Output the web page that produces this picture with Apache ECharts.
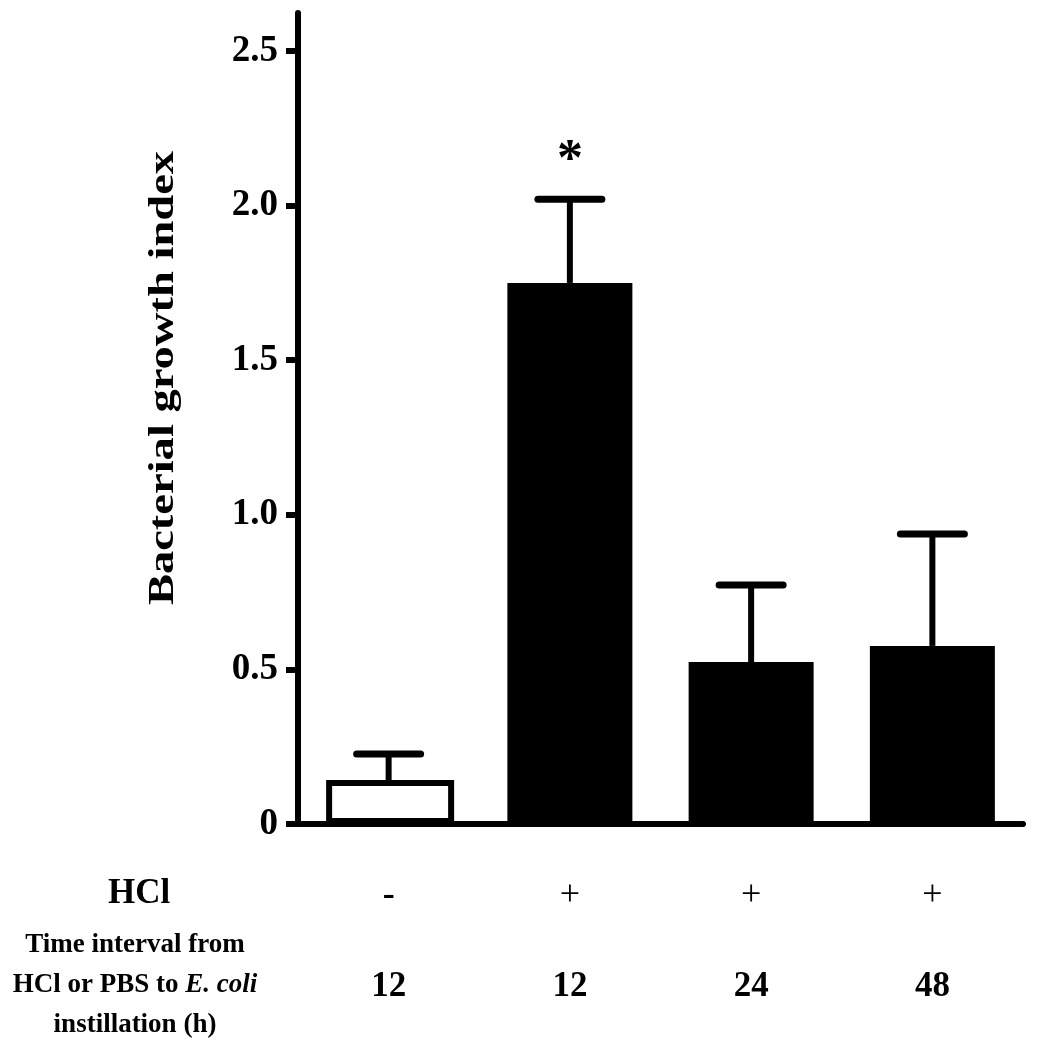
<!DOCTYPE html>
<html>
<head>
<meta charset="utf-8">
<script src="https://cdn.jsdelivr.net/npm/echarts@6/dist/echarts.min.js"></script>
<style>
html,body{margin:0;padding:0;background:#fff;}
#chart{width:1042px;height:1050px;}
</style>
</head>
<body>
<div id="chart"></div>
<script>
// ---- data ----
const hclRow = ['-', '+', '+', '+'];
const intervalRow = ['12', '12', '24', '48'];
const means = [0.142, 1.75, 0.524, 0.576];
const upperErr = [0.226, 2.021, 0.773, 0.938];
const significance = ['', '*', '', ''];
const yTicks = [0, 0.5, 1.0, 1.5, 2.0, 2.5];
const yAxisTitle = 'Bacterial growth index';
const rowTitle1 = 'HCl';

const FONT = "'Liberation Serif', 'Times New Roman', serif";
const categories = hclRow.map((s, i) => i);

const controlValues = means.map((v, i) => i === 0 ? v : '-');
const hclValues = means.map((v, i) => i === 0 ? '-' : v);
const errData = means.map((v, i) => [i, v, upperErr[i]]);

const chart = echarts.init(document.getElementById('chart'));
chart.setOption({
  animation: false,
  backgroundColor: '#fff',
  grid: { left: 298, right: 19, top: 13, bottom: 226, containLabel: false },
  xAxis: {
    type: 'category',
    data: categories,
    axisLine: { lineStyle: { color: '#000', width: 6 } },
    axisTick: { show: false },
    axisLabel: {
      margin: 22,
      formatter: function (v, i) {
        const key = hclRow[i] === '+' ? 'p' : 's';
        return '{' + key + '|' + hclRow[i] + '}\n{n|' + intervalRow[i] + '}';
      },
      rich: {
        s: { fontFamily: FONT, fontSize: 36, fontWeight: 'bold', lineHeight: 100, color: '#000' },
        p: { fontFamily: FONT, fontSize: 36, fontWeight: 'normal', lineHeight: 100, color: '#000' },
        n: { fontFamily: FONT, fontSize: 35, fontWeight: 'bold', lineHeight: 82, color: '#000' }
      }
    }
  },
  yAxis: {
    type: 'value',
    min: 0,
    max: 2.623,
    splitLine: { show: false },
    axisLine: { show: true, lineStyle: { color: '#000', width: 6 } },
    axisTick: { show: true, customValues: yTicks, length: 12, lineStyle: { color: '#000', width: 6 } },
    axisLabel: {
      customValues: yTicks,
      margin: 20,
      fontFamily: FONT, fontSize: 37, fontWeight: 'bold', color: '#000',
      formatter: v => v === 0 ? '0' : v.toFixed(1)
    }
  },
  series: [
    {
      type: 'bar',
      data: controlValues,
      barWidth: 128,
      barGap: '-100%',
      itemStyle: { color: '#fff', borderColor: '#000', borderWidth: 6 },
      z: 2
    },
    {
      type: 'bar',
      data: hclValues,
      barWidth: 125,
      barGap: '-100%',
      itemStyle: { color: '#000' },
      z: 2
    },
    {
      type: 'custom',
      data: errData,
      z: 3,
      renderItem: function (params, api) {
        const x = api.value(0);
        const base = api.coord([x, api.value(1)]);
        const top = api.coord([x, api.value(2)]);
        const hw = 32;
        const children = [
          { type: 'line', shape: { x1: base[0], y1: base[1], x2: top[0], y2: top[1] }, style: { stroke: '#000', lineWidth: 6 } },
          { type: 'line', shape: { x1: top[0] - hw, y1: top[1], x2: top[0] + hw, y2: top[1] }, style: { stroke: '#000', lineWidth: 7, lineCap: 'round' } }
        ];
        const sig = significance[params.dataIndex];
        if (sig) {
          children.push({ type: 'text', style: { text: sig, x: top[0], y: top[1] - 38, align: 'center', verticalAlign: 'middle', fontFamily: FONT, fontSize: 52, fontWeight: 'bold', fill: '#000' } });
        }
        return { type: 'group', children: children };
      }
    }
  ],
  graphic: [
    {
      type: 'text', x: 164, y: 378, rotation: Math.PI / 2, scaleX: 1.33,
      style: { text: yAxisTitle, align: 'center', verticalAlign: 'middle', fontFamily: FONT, fontSize: 35, fontWeight: 'bold', fill: '#000' }
    },
    {
      type: 'text', left: 108, top: 876,
      style: { text: rowTitle1, fontFamily: FONT, fontSize: 35, fontWeight: 'bold', fill: '#000' }
    },
    {
      type: 'text', x: 135, y: 985,
      style: {
        text: '{b|Time interval from}\n{b|HCl or PBS to }{i|E. coli}\n{b|instillation (h)}',
        align: 'center', verticalAlign: 'middle',
        rich: {
          b: { fontFamily: FONT, fontSize: 27, fontWeight: 'bold', lineHeight: 40, fill: '#000' },
          i: { fontFamily: FONT, fontSize: 27, fontWeight: 'bold', fontStyle: 'italic', lineHeight: 40, fill: '#000' }
        }
      }
    }
  ]
});
</script>
</body>
</html>
